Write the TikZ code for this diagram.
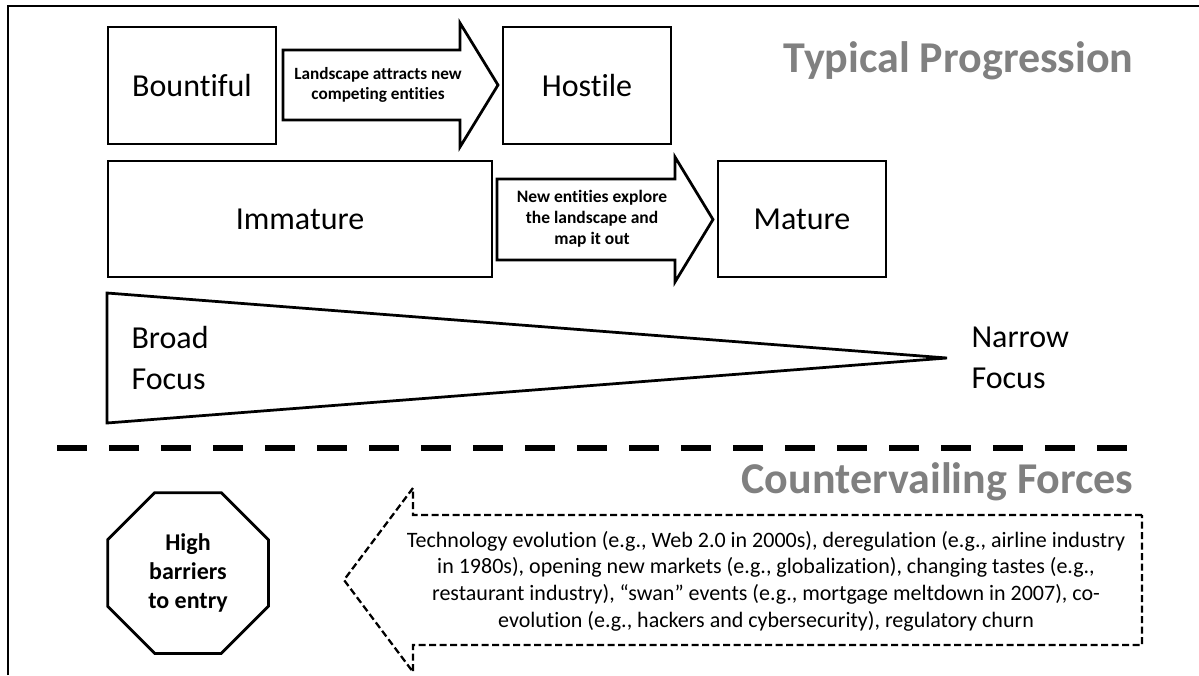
\documentclass[tikz,border=0pt]{standalone}
\usepackage{fontspec}
\setmainfont{Carlito}[Ligatures=NoCommon]
\usetikzlibrary{shapes.geometric}

\definecolor{titlegray}{RGB}{128,128,128}

\tikzset{
    stagebox/.style={draw, line width=2.75pt, inner sep=0pt,
        font=\fontsize{32}{38}\selectfont},
    blockarrow/.style={draw, line width=2.75pt, line join=miter},
    arrowtext/.style={align=center, font=\bfseries\fontsize{17.2}{20}\selectfont},
    focustext/.style={anchor=west, align=left, font=\fontsize{32}{41}\selectfont},
    sectiontitle/.style={anchor=base east, text=titlegray, font=\bfseries\fontsize{44}{50}\selectfont}
}

\begin{document}
\begin{tikzpicture}[x=1pt, y=-1pt]
    \useasboundingbox (0,0) rectangle (1199,675);

    % 外框：上边与左边
    \draw[line width=2pt] (8,675) -- (8,6) -- (1199,6);

    % 标题
    \node[sectiontitle] (typical) at (1137,72) {Typical Progression};
    \node[sectiontitle] (counter) at (1137,493) {Countervailing Forces};

    % 四个阶段方框
    \node[stagebox, minimum width=168pt, minimum height=117pt] (bountiful) at (192,85.5) {Bountiful};
    \node[stagebox, minimum width=168pt, minimum height=117pt] (hostile) at (587,85.5) {Hostile};
    \node[stagebox, minimum width=384pt, minimum height=116pt] (immature) at (300,219) {Immature};
    \node[stagebox, minimum width=168pt, minimum height=116pt] (mature) at (802,219) {Mature};

    % 第一个块箭头
    \draw[blockarrow] (283,50) -- (460,50) -- (460,23) -- (498,85) -- (460,147)
        -- (460,120) -- (283,120) -- cycle;
    \node[arrowtext] (attract) at (378,85) {Landscape attracts new\\competing entities};

    % 第二个块箭头
    \draw[blockarrow] (497,179) -- (675,179) -- (675,157) -- (713,219.5) -- (675,282)
        -- (675,260) -- (497,260) -- cycle;
    \node[arrowtext, font=\bfseries\fontsize{17.5}{21}\selectfont] (explore) at (592,219) {New entities explore\\the landscape and\\map it out};

    % 楔形：由宽到窄
    \draw[line width=2.75pt, line join=miter] (107,293) -- (947,358) -- (107,423) -- cycle;
    \node[focustext] (broad) at (128,358) {Broad\\Focus};
    \node[focustext] (narrow) at (968,358) {Narrow\\Focus};

    % 分隔虚线
    \draw[line width=6pt, dash pattern=on 30pt off 22pt] (57,448) -- (1130,448);

    % 八边形
    \node[draw, line width=2.75pt, regular polygon, regular polygon sides=8,
        minimum size=174pt, inner sep=0pt, align=center,
        font=\bfseries\fontsize{24}{29}\selectfont] (barrier) at (188,573) {High\\barriers\\to entry};

    % 反向虚线块箭头
    \draw[line width=2.25pt, dash pattern=on 7pt off 3.5pt, line join=miter]
        (1142,515) -- (413,515) -- (413,488) -- (344,580) -- (413,672)
        -- (413,645) -- (1142,645) -- cycle;
    \node[align=center, font=\fontsize{22}{26.7}\selectfont] (forces) at (766,581)
        {Technology evolution (e.g., Web 2.0 in 2000s), deregulation (e.g., airline industry\\
         in 1980s), opening new markets (e.g., globalization), changing tastes (e.g.,\\
         restaurant industry), “swan” events (e.g., mortgage meltdown in 2007), co-\\
         evolution (e.g., hackers and cybersecurity), regulatory churn};
\end{tikzpicture}
\end{document}
